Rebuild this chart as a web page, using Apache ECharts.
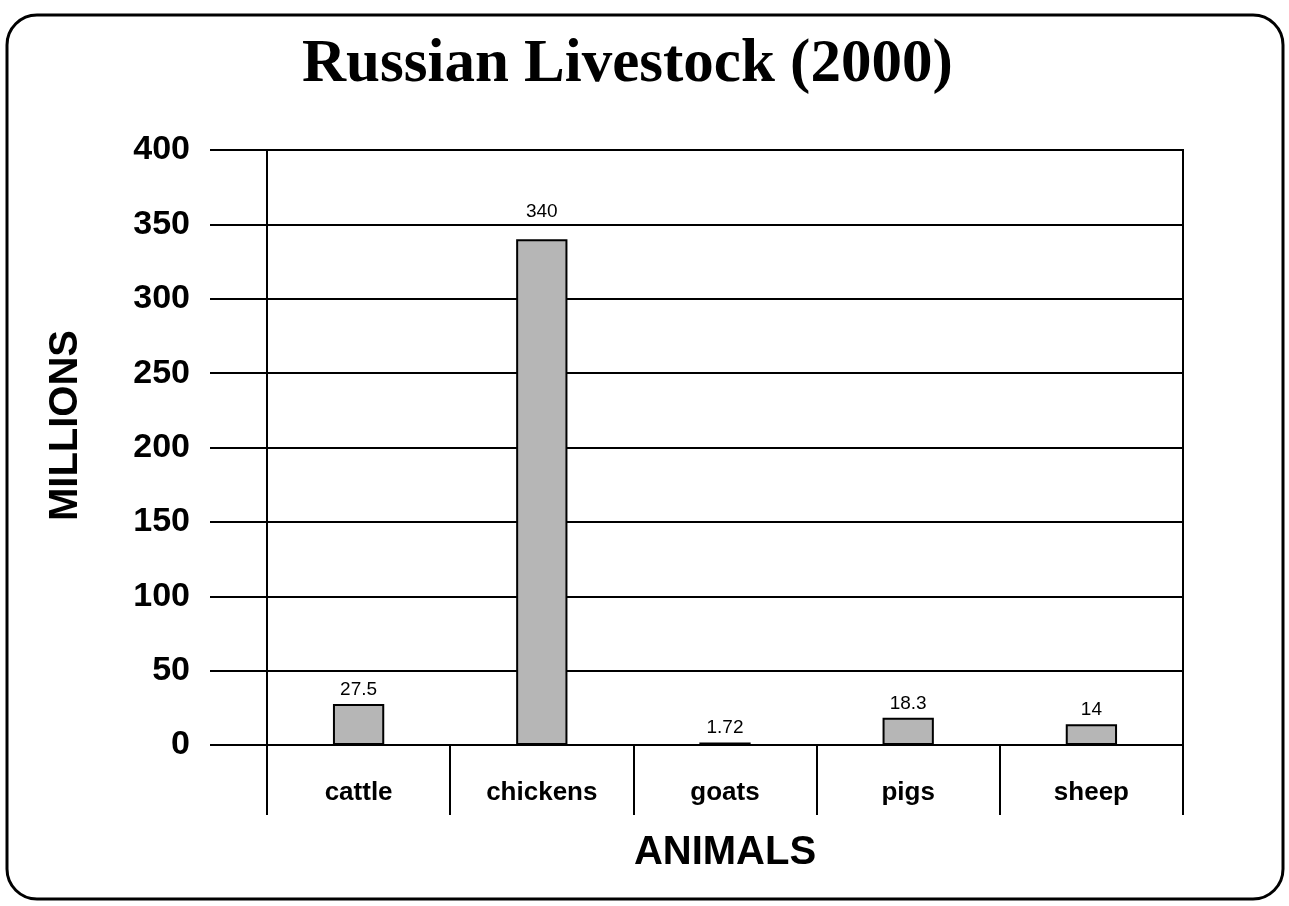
<!DOCTYPE html>
<html>
<head>
<meta charset="utf-8">
<script src="https://cdn.jsdelivr.net/npm/echarts@6/dist/echarts.min.js"></script>
<style>html,body{margin:0;padding:0;background:#fff;}#c{width:1289px;height:906px;}</style>
</head>
<body>
<div id="c"></div>
<script>
const categories = ['cattle', 'chickens', 'goats', 'pigs', 'sheep'];
const values = [27.5, 340, 1.72, 18.3, 14];
const valueLabels = ['27.5', '340', '1.72', '18.3', '14'];

const chart = echarts.init(document.getElementById('c'));
chart.setOption({
  backgroundColor: '#fff',
  animation: false,
  title: {
    text: 'Russian Livestock (2000)',
    left: 302,
    top: 35,
    padding: 0,
    textStyle: { fontFamily: 'Liberation Serif', fontWeight: 'bold', fontSize: 61, color: '#000' }
  },
  graphic: [{
    type: 'rect',
    shape: { x: 7, y: 15, width: 1276, height: 884, r: 30 },
    style: { fill: 'none', stroke: '#000', lineWidth: 3 },
    silent: true
  }],
  grid: { left: 267, right: 106, top: 150, bottom: 161, show: true, borderColor: '#000', borderWidth: 2 },
  xAxis: {
    type: 'category',
    data: categories,
    name: 'ANIMALS',
    nameLocation: 'middle',
    nameGap: 88,
    nameTextStyle: { fontFamily: 'Liberation Sans', fontWeight: 'bold', fontSize: 40, color: '#000' },
    axisLine: { lineStyle: { color: '#000', width: 2 } },
    axisTick: { show: true, length: 70, lineStyle: { color: '#000', width: 2 } },
    axisLabel: { margin: 35, fontFamily: 'Liberation Sans', fontWeight: 'bold', fontSize: 26, color: '#000' }
  },
  yAxis: {
    type: 'value',
    min: 0, max: 400, interval: 50,
    name: 'MILLIONS',
    nameLocation: 'middle',
    nameGap: 181,
    nameRotate: 90,
    nameTextStyle: { fontFamily: 'Liberation Sans', fontWeight: 'bold', fontSize: 40, color: '#000', padding: [0, 0, 0, 44] },
    axisLine: { show: true, lineStyle: { color: '#000', width: 2 } },
    axisTick: { show: true, length: 57, lineStyle: { color: '#000', width: 2 } },
    axisLabel: { margin: 77, fontFamily: 'Liberation Sans', fontWeight: 'bold', fontSize: 34, color: '#000' },
    splitLine: { show: true, lineStyle: { color: '#000', width: 2 } }
  },
  series: [{
    type: 'bar',
    data: values.map((v, i) => (v > 300 ? { value: v, label: { distance: 18 } } : v)),
    barWidth: '28%',
    itemStyle: { color: '#b6b6b6', borderColor: '#000', borderWidth: 2 },
    label: {
      show: true,
      position: 'top',
      distance: 5,
      fontFamily: 'Liberation Sans',
      fontSize: 19,
      color: '#000',
      formatter: p => valueLabels[p.dataIndex]
    }
  }]
});
</script>
</body>
</html>
